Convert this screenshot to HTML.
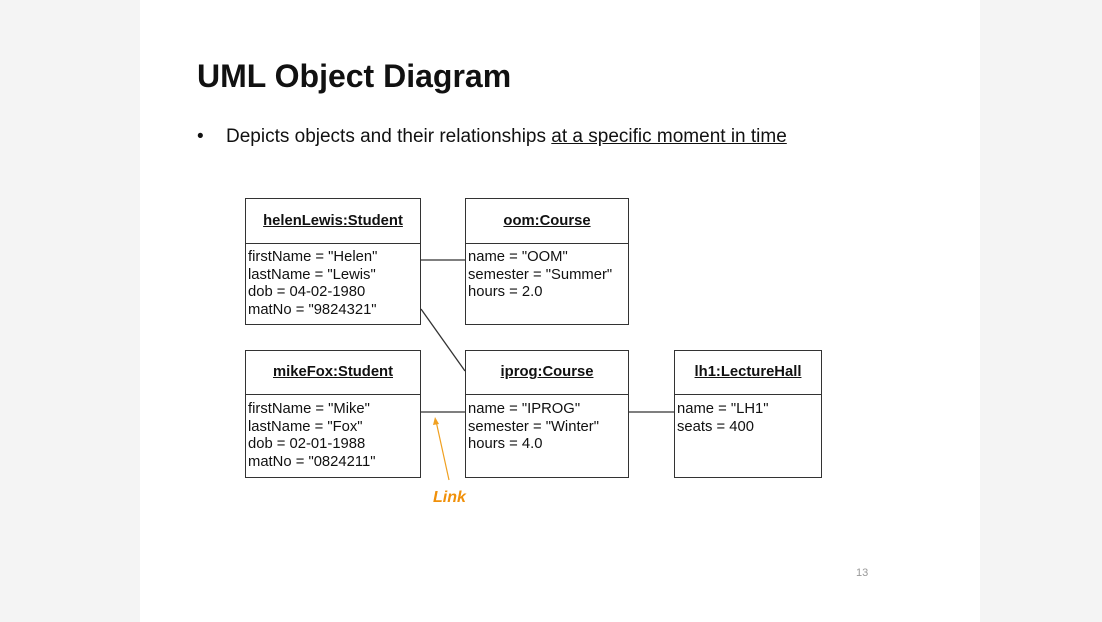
<!DOCTYPE html>
<html><head><style>
body{margin:0;width:1102px;height:622px;background:#f4f4f4;font-family:"Liberation Sans",sans-serif;position:relative;overflow:hidden}
.slide{position:absolute;left:140px;top:0;width:840px;height:622px;background:#fff}
.t{position:absolute;white-space:nowrap}
.box{position:absolute;border:1.5px solid #333;background:#fff;box-sizing:border-box}
.hd{position:absolute;left:0;right:0;top:0;border-bottom:1.5px solid #333;text-align:center;font-weight:bold;text-decoration:underline;font-size:14.8px;color:#111}
.at{position:absolute;left:2px;font-size:14.8px;line-height:17.5px;color:#111}
</style></head><body>
<div class="slide"></div>
<div class="t" style="left:197px;top:58px;font-size:32px;font-weight:bold;color:#111">UML Object Diagram</div>
<div class="t" style="left:197px;top:126px;font-size:19px;color:#111">•</div>
<div class="t" style="left:226px;top:126px;font-size:19px;color:#111">Depicts objects and their relationships <span style="text-decoration:underline">at a specific moment in time</span></div>

<div class="box" style="left:245px;top:198px;width:176px;height:127px"><div class="hd" style="height:44px;line-height:44px">helenLewis:Student</div><div class="at" style="top:50px">firstName = "Helen"<br>lastName = "Lewis"<br>dob = 04-02-1980<br>matNo = "9824321"</div></div>
<div class="box" style="left:465px;top:198px;width:164px;height:127px"><div class="hd" style="height:44px;line-height:44px">oom:Course</div><div class="at" style="top:50px">name = "OOM"<br>semester = "Summer"<br>hours = 2.0</div></div>
<div class="box" style="left:245px;top:350px;width:176px;height:128px"><div class="hd" style="height:43px;line-height:43px">mikeFox:Student</div><div class="at" style="top:50px">firstName = "Mike"<br>lastName = "Fox"<br>dob = 02-01-1988<br>matNo = "0824211"</div></div>
<div class="box" style="left:465px;top:350px;width:164px;height:128px"><div class="hd" style="height:43px;line-height:43px">iprog:Course</div><div class="at" style="top:50px">name = "IPROG"<br>semester = "Winter"<br>hours = 4.0</div></div>
<div class="box" style="left:674px;top:350px;width:148px;height:128px"><div class="hd" style="height:43px;line-height:43px">lh1:LectureHall</div><div class="at" style="top:50px">name = "LH1"<br>seats = 400</div></div>

<svg style="position:absolute;left:0;top:0" width="1102" height="622">
<g stroke="#333" stroke-width="1.3" fill="none">
<line x1="421" y1="260" x2="465" y2="260"/>
<line x1="421" y1="309" x2="465" y2="371"/>
<line x1="421" y1="412" x2="465" y2="412"/>
<line x1="629" y1="412" x2="674" y2="412"/>
</g>
<line x1="449" y1="480" x2="436" y2="421" stroke="#f0a020" stroke-width="1.2"/>
<polygon points="435,417 433,425 439,424" fill="#f0a020"/>
</svg>
<div class="t" style="left:433px;top:489px;font-size:16px;font-weight:bold;font-style:italic;color:#f0900a">Link</div>
<div class="t" style="left:856px;top:567px;font-size:11px;color:#999">13</div>
</body></html>
